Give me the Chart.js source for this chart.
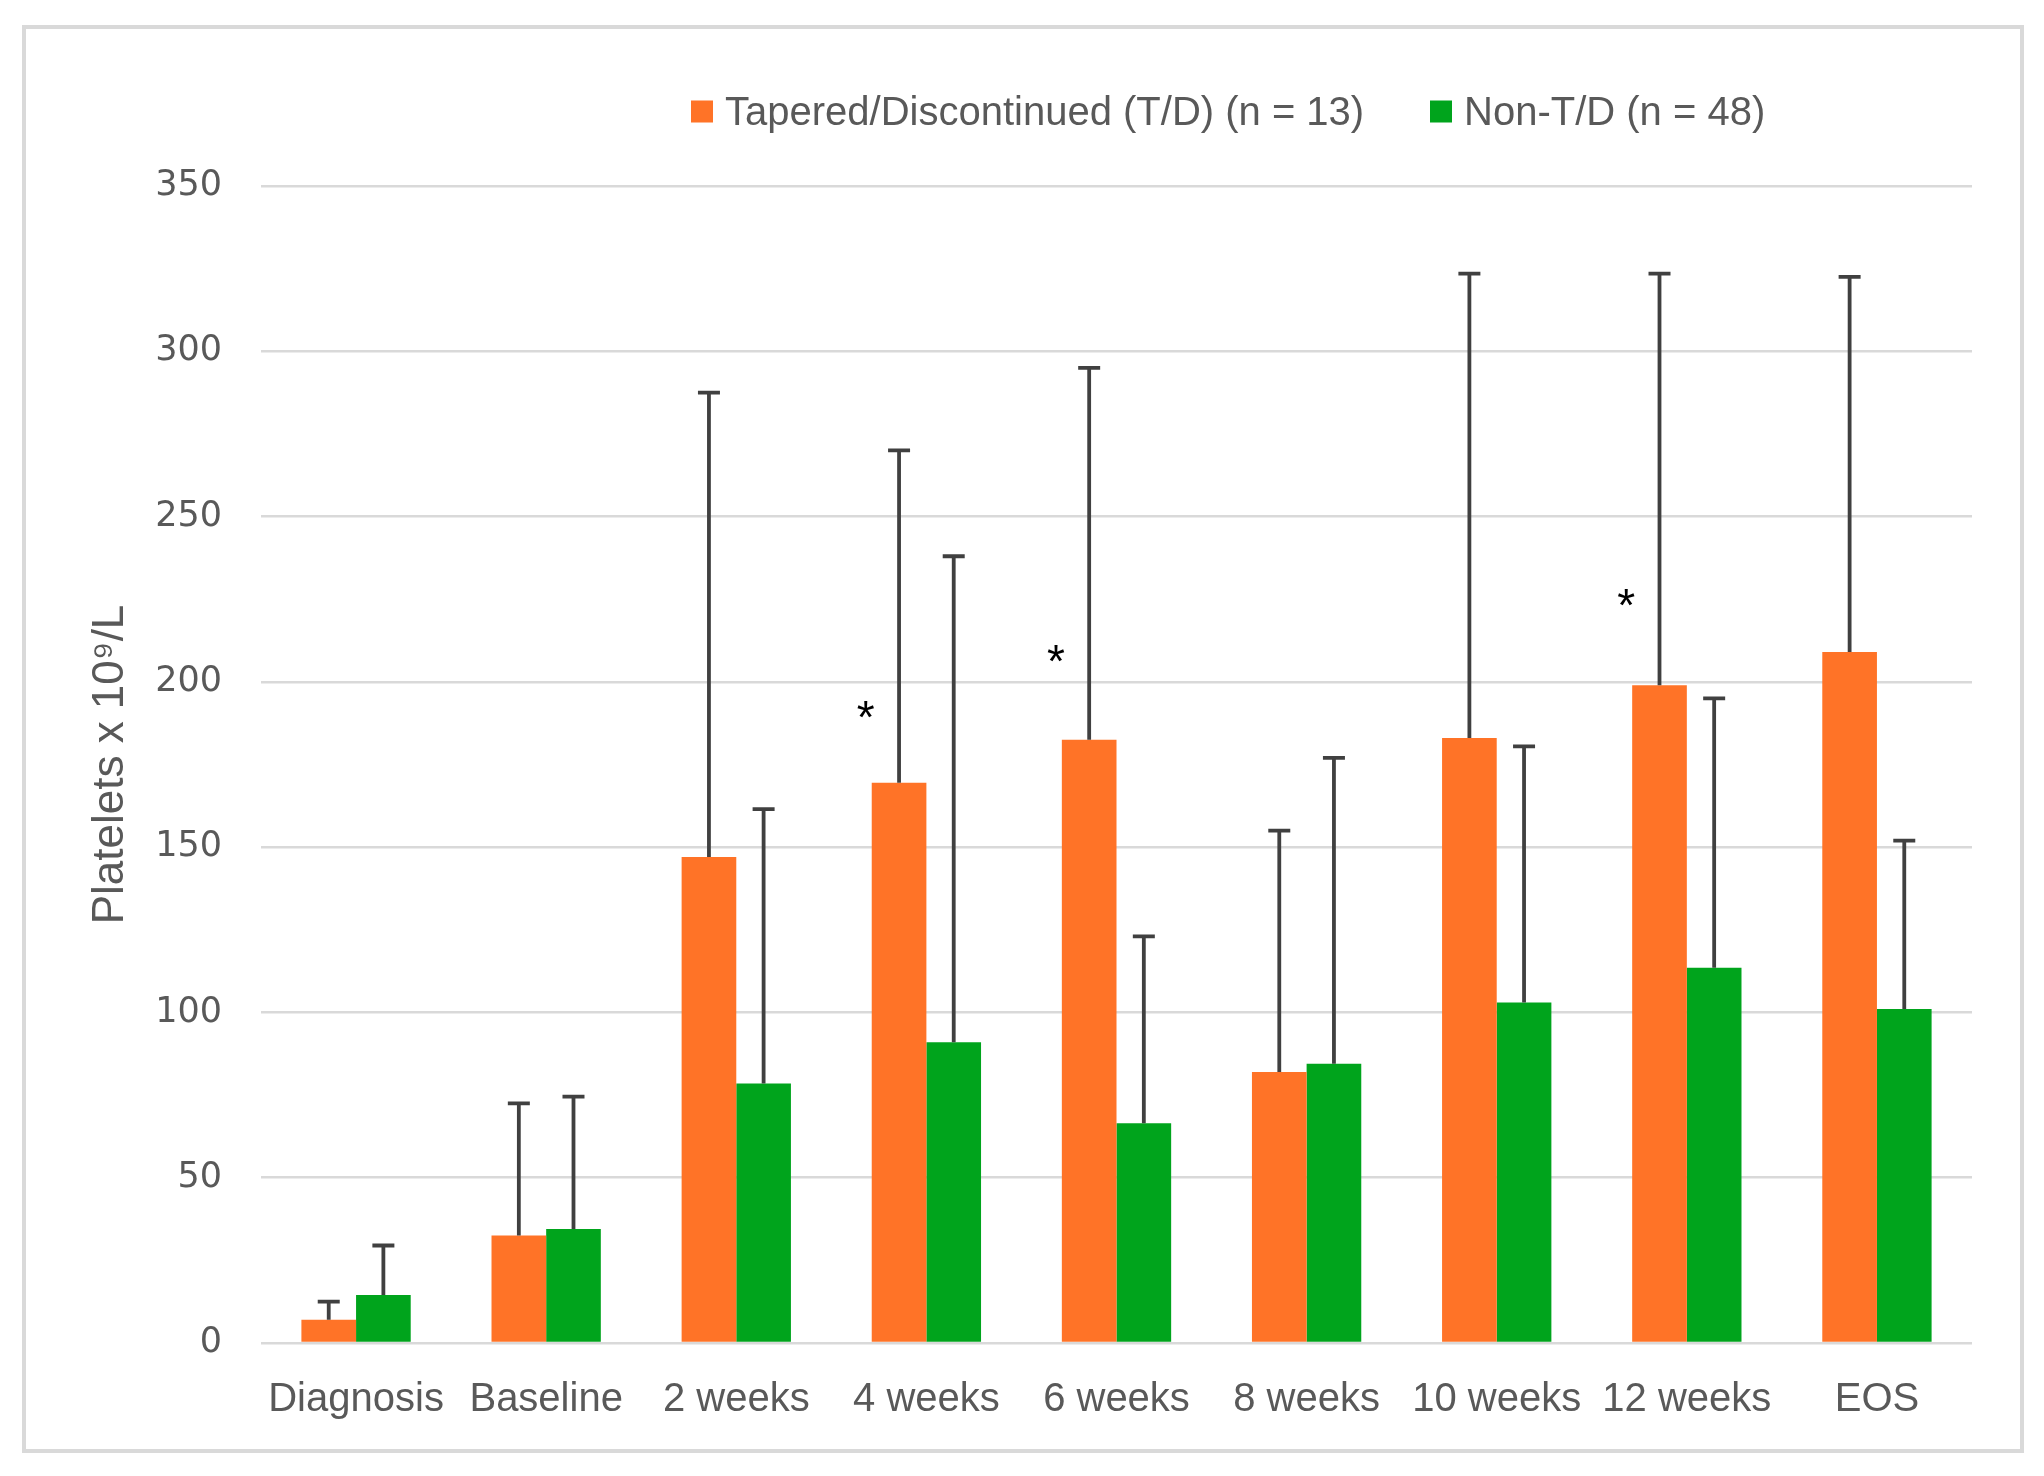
<!DOCTYPE html>
<html>
<head>
<meta charset="utf-8">
<script src="https://cdn.jsdelivr.net/npm/chart.js@4.4.1/dist/chart.umd.min.js"></script>
<style>
  body { margin: 0; background: #fff; }
  .frame { position: absolute; left: 22px; top: 25px; width: 2002px; height: 1428px; border: 4px solid #d9d9d9; box-sizing: border-box; }
  #wrap { position: absolute; left: 0; top: 0; width: 2044px; height: 1476px; }
  .item { position: absolute; top: 111px; transform: translateY(-50%); display: flex; align-items: center;
          font-family: "Liberation Sans", Arial, sans-serif; font-size: 40px; color: #595959; white-space: nowrap; }
  .item .box { display: inline-block; width: 22px; height: 22px; margin-right: 12px; }
</style>
</head>
<body>
<div class="frame"></div>
<div id="wrap"><canvas id="myChart" width="2044" height="1476"></canvas></div>
<div id="legend"></div>
<script>
const categories = ['Diagnosis', 'Baseline', '2 weeks', '4 weeks', '6 weeks', '8 weeks', '10 weeks', '12 weeks', 'EOS'];
const seriesNames = ['Tapered/Discontinued (T/D) (n = 13)', 'Non-T/D (n = 48)'];
const seriesColors = ['#FF7327', '#00A41C'];

// means
const tdValues = [7, 32.5, 147, 169.5, 182.5, 82, 183, 199, 209];
const nonTdValues = [14.5, 34.5, 78.5, 91, 66.5, 84.5, 103, 113.5, 101];
// mean + SD (top of error bar)
const tdUpper = [12.5, 72.5, 287.5, 270, 295, 155, 323.5, 323.5, 322.5];
const nonTdUpper = [29.5, 74.5, 161.5, 238, 123, 177, 180.5, 195, 152];

// significance marks
const starCats = ['4 weeks', '6 weeks', '12 weeks'];
const starValues = [191, 208, 225];

const yTicks = [0, 50, 100, 150, 200, 250, 300, 350];

// legend
const legendLeft = [691, 1430];
const legend = document.getElementById('legend');
seriesNames.forEach((name, i) => {
  const item = document.createElement('div');
  item.className = 'item';
  item.style.left = legendLeft[i] + 'px';
  item.innerHTML = '<span class="box" style="background:' + seriesColors[i] + '"></span>' + name;
  legend.appendChild(item);
});

const errorBars = {
  id: 'errorBars',
  afterDatasetsDraw(chart) {
    const ctx = chart.ctx;
    const y = chart.scales.y;
    ctx.save();
    ctx.strokeStyle = '#404040';
    ctx.lineWidth = 3.8;
    [tdUpper, nonTdUpper].forEach((upper, di) => {
      chart.getDatasetMeta(di).data.forEach((bar, i) => {
        const top = y.getPixelForValue(upper[i]);
        ctx.beginPath();
        ctx.moveTo(bar.x, bar.y);
        ctx.lineTo(bar.x, top);
        ctx.moveTo(bar.x - 11, top);
        ctx.lineTo(bar.x + 11, top);
        ctx.stroke();
      });
    });

    ctx.fillStyle = '#000';
    ctx.font = '46px "Liberation Sans"';
    ctx.textAlign = 'center';
    ctx.textBaseline = 'middle';
    const meta = chart.getDatasetMeta(0);
    starCats.forEach((c, k) => {
      const bar = meta.data[categories.indexOf(c)];
      const x = bar.x - bar.width / 2 - 6;
      ctx.fillText('*', x, y.getPixelForValue(starValues[k]) + 9);
    });
    ctx.restore();
  }
};

const ctx = document.getElementById('myChart');

const myChart = new Chart(ctx, {
  type: 'bar',
  data: {
    labels: categories,
    datasets: [
      { label: seriesNames[0], data: tdValues, backgroundColor: seriesColors[0] },
      { label: seriesNames[1], data: nonTdValues, backgroundColor: seriesColors[1] }
    ]
  },
  options: {
    responsive: false,
    animation: false,
    devicePixelRatio: 1,
    layout: { padding: { top: 186, right: 72, left: 0, bottom: 0 } },
    datasets: { bar: { categoryPercentage: 0.575, barPercentage: 1 } },
    plugins: { legend: { display: false }, tooltip: { enabled: false } },
    scales: {
      x: {
        grid: { display: false, drawTicks: false },
        border: { display: false },
        ticks: { color: '#595959', padding: 33, font: { family: 'Liberation Sans', size: 40 } },
        afterFit: (scale) => { scale.height = 133; }
      },
      y: {
        min: 0,
        max: 350,
        afterBuildTicks: (scale) => { scale.ticks = yTicks.map(v => ({ value: v })); },
        grid: { color: '#d9d9d9', lineWidth: 2.5, drawTicks: false },
        border: { display: false },
        ticks: { color: '#595959', padding: 39, font: { family: 'DejaVu Sans', size: 35 } },
        title: {
          display: true,
          text: 'Platelets x 10⁹/L',
          color: '#595959',
          font: { family: 'Liberation Sans', size: 44 },
          padding: { top: 84, bottom: 0 }
        },
        afterFit: (scale) => { scale.width = 261; }
      }
    }
  },
  plugins: [errorBars]
});
</script>
</body>
</html>
